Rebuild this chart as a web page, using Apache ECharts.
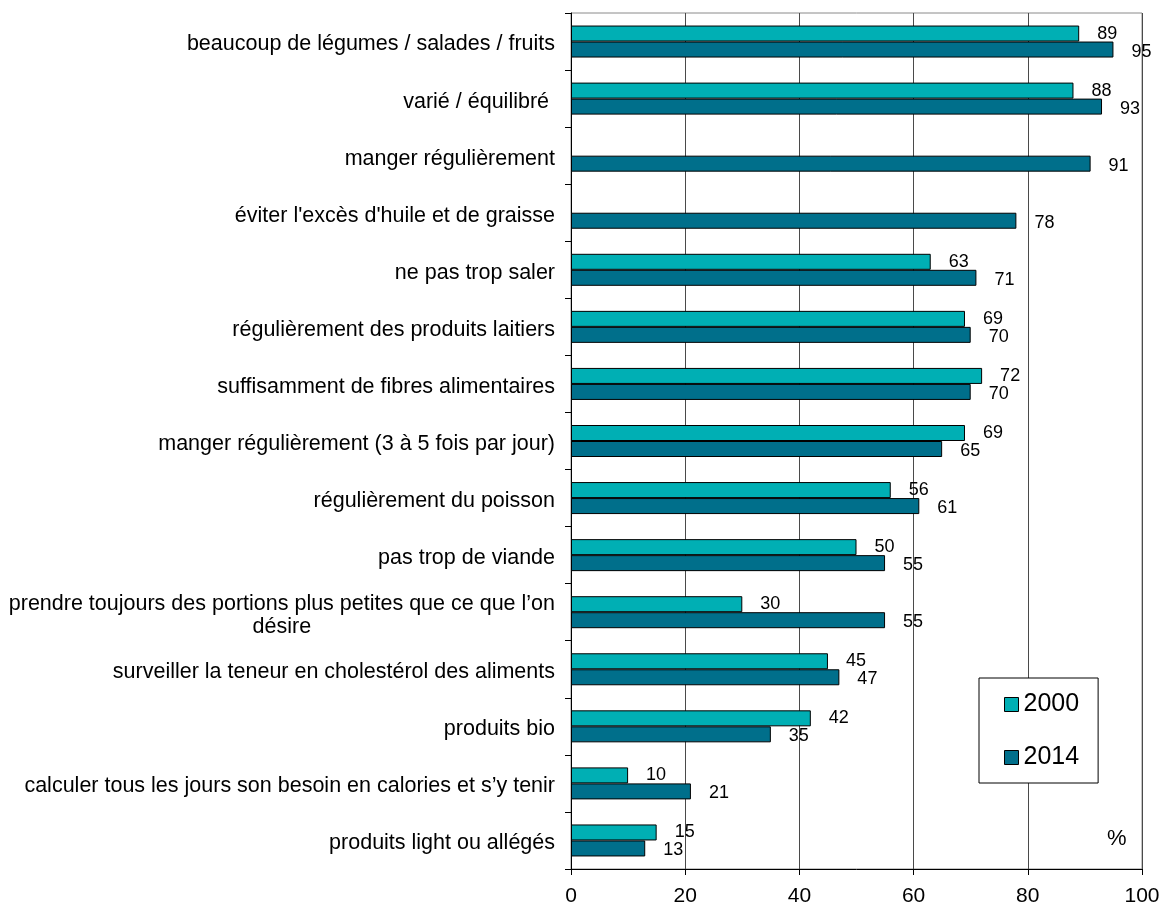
<!DOCTYPE html>
<html>
<head>
<meta charset="utf-8">
<script src="https://cdn.jsdelivr.net/npm/echarts@6/dist/echarts.min.js"></script>
<style>
  html, body { margin: 0; padding: 0; background: #ffffff; }
  #chart { width: 1161px; height: 904px; }
</style>
</head>
<body>
<div id="chart"></div>
<script>
// Eating habits considered important, share of respondents (%) in 2000 and 2014
const categories = [
  'beaucoup de légumes / salades / fruits',
  'varié / équilibré ',
  'manger régulièrement',
  "éviter l'excès d'huile et de graisse",
  'ne pas trop saler',
  'régulièrement des produits laitiers',
  'suffisamment de fibres alimentaires',
  'manger régulièrement (3 à 5 fois par jour)',
  'régulièrement du poisson',
  'pas trop de viande',
  'prendre toujours des portions plus petites que ce que l’on\ndésire',
  'surveiller la teneur en cholestérol des aliments',
  'produits bio',
  'calculer tous les jours son besoin en calories et s’y tenir',
  'produits light ou allégés'
];
const values2000 = [89, 88, null, null, 63, 69, 72, 69, 56, 50, 30, 45, 42, 10, 15];
const values2014 = [95, 93, 91, 78, 71, 70, 70, 65, 61, 55, 55, 47, 35, 21, 13];
const xTicks = { min: 0, max: 100, step: 20 };

const FONT = "'Liberation Sans', Arial, sans-serif";
const chart = echarts.init(document.getElementById('chart'), null, { renderer: 'canvas' });

function barSeries(name, data, color, labelOffset) {
  return {
    name: name,
    type: 'bar',
    data: data,
    barWidth: 16,
    barGap: '0%',
    barCategoryGap: '40%',
    itemStyle: { color: color, borderColor: '#000000', borderWidth: 1 },
    label: {
      show: true,
      position: 'right',
      distance: 18,
      offset: labelOffset,
      fontFamily: FONT,
      fontSize: 18,
      color: '#000000'
    },
    emphasis: { disabled: true },
    animation: false
  };
}

chart.setOption({
  backgroundColor: '#ffffff',
  textStyle: { fontFamily: FONT },
  grid: {
    left: 571, right: 19, top: 13, bottom: 35,
    containLabel: false,
    outerBoundsMode: 'none',
    show: true,
    borderColor: '#8a8a8a',
    borderWidth: 1,
    backgroundColor: 'transparent'
  },
  legend: {
    orient: 'vertical',
    left: 979,
    top: 678,
    padding: [14, 19, 13, 25],
    itemGap: 28,
    itemWidth: 14,
    itemHeight: 14,
    icon: 'rect',
    backgroundColor: '#ffffff',
    borderColor: '#000000',
    borderWidth: 1,
    selectedMode: false,
    itemStyle: { borderColor: '#000000', borderWidth: 1 },
    textStyle: { fontFamily: FONT, fontSize: 25, color: '#000000' },
    data: ['2000', '2014']
  },
  xAxis: {
    type: 'value',
    min: xTicks.min,
    max: xTicks.max,
    interval: xTicks.step,
    axisLine: { show: true, lineStyle: { color: '#000000', width: 1 } },
    axisTick: { show: true, length: 6, lineStyle: { color: '#000000' } },
    axisLabel: { fontFamily: FONT, fontSize: 21, color: '#000000', margin: 17 },
    splitLine: { show: true, lineStyle: { color: '#4a4a4a', width: 1 } }
  },
  yAxis: {
    type: 'category',
    inverse: true,
    data: categories,
    axisLine: { show: true, lineStyle: { color: '#000000', width: 1 } },
    axisTick: { show: true, length: 6, lineStyle: { color: '#000000' } },
    axisLabel: {
      fontFamily: FONT,
      fontSize: 21.5,
      color: '#000000',
      margin: 16,
      padding: [6, 0, 0, 0],
      formatter: function (v) {
        return v.indexOf('\n') >= 0 ? '{c|' + v + '}' : v;
      },
      rich: {
        c: { fontFamily: FONT, fontSize: 21.5, color: '#000000', align: 'center', lineHeight: 23 }
      }
    },
    splitLine: { show: false }
  },
  graphic: [
    {
      type: 'text',
      left: 1107,
      top: 828,
      style: { text: '%', fontFamily: FONT, fontSize: 22, fill: '#000000' },
      silent: true
    }
  ],
  series: [
    barSeries('2000', values2000, '#00AFB4', [0, 0]),
    barSeries('2014', values2014, '#006F8B', [0, 2])
  ]
});
</script>
</body>
</html>
